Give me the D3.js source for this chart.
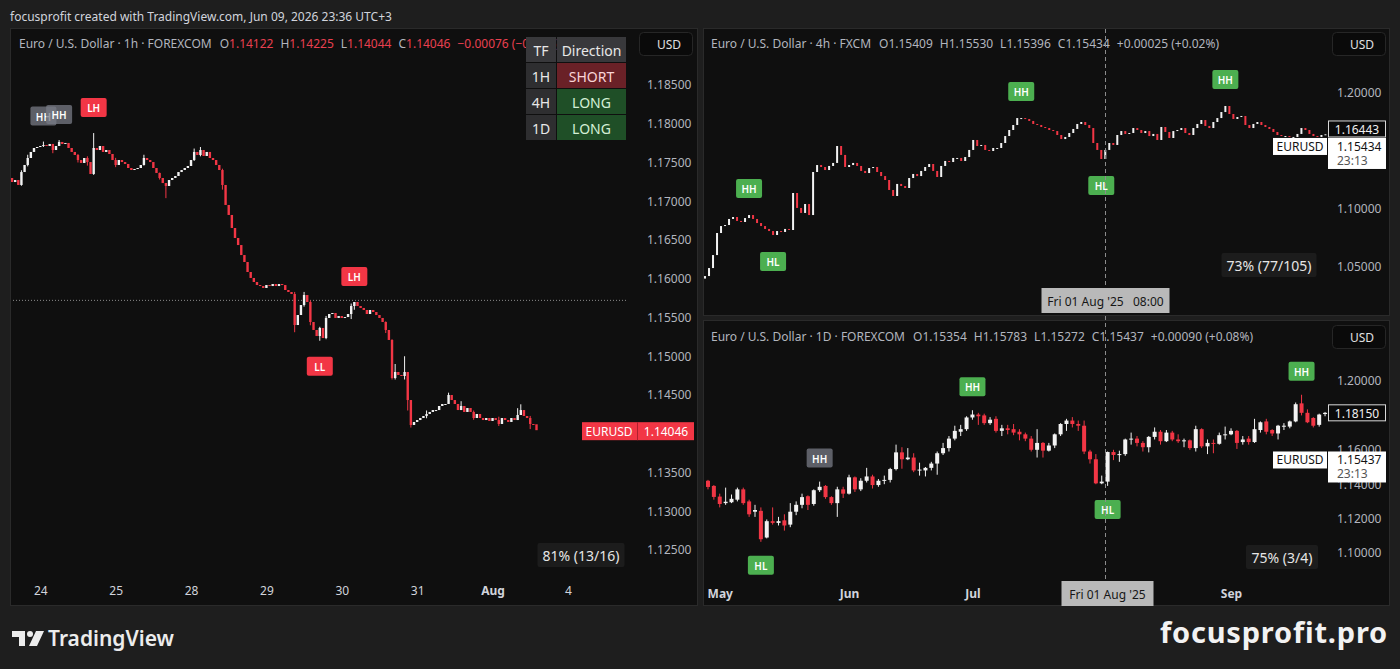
<!DOCTYPE html>
<html>
<head>
<meta charset="utf-8">
<script src="https://cdn.jsdelivr.net/npm/d3@7"></script>
<style>
  body { margin: 0; background: #1e1e1e; }
  svg { display: block; font-family: "Noto Sans", sans-serif; }
</style>
</head>
<body>
<div id="chart"></div>
<script>
// ---------- 1h panel data (Jul 23 15:00 -> Aug 1 14:00) ----------
var h1Start = Date.UTC(2025, 6, 23, 15);
var h1FirstOpen = 1.17300;
var h1Close = [
  1.17248, 1.17274, 1.17210, 1.17377, 1.17468, 1.17558, 1.17636, 1.17687, 1.17700, 1.17713,
  1.17726, 1.17713, 1.17739, 1.17661, 1.17713, 1.17765, 1.17739, 1.17752, 1.17687, 1.17636,
  1.17597, 1.17532, 1.17494, 1.17558, 1.17506, 1.17352, 1.17687, 1.17661, 1.17713, 1.17636,
  1.17661, 1.17610, 1.17532, 1.17468, 1.17532, 1.17506, 1.17481, 1.17429, 1.17403, 1.17416,
  1.17429, 1.17468, 1.17558, 1.17532, 1.17506, 1.17429, 1.17365, 1.17300, 1.17235, 1.17197,
  1.17274, 1.17300, 1.17326, 1.17377, 1.17403, 1.17429, 1.17455, 1.17532, 1.17636, 1.17597,
  1.17661, 1.17584, 1.17636, 1.17558, 1.17532, 1.17468, 1.17403, 1.17210, 1.16952, 1.16823,
  1.16655, 1.16526, 1.16435, 1.16306, 1.16216, 1.16087, 1.16010, 1.15958, 1.15919, 1.15906,
  1.15881, 1.15919, 1.15906, 1.15932, 1.15906, 1.15932, 1.15919, 1.15855, 1.15829, 1.15803,
  1.15403, 1.15532, 1.15661, 1.15790, 1.15700, 1.15442, 1.15339, 1.15261, 1.15365, 1.15235,
  1.15494, 1.15545, 1.15558, 1.15494, 1.15519, 1.15494, 1.15506, 1.15545, 1.15648, 1.15700,
  1.15648, 1.15623, 1.15597, 1.15545, 1.15597, 1.15571, 1.15532, 1.15494, 1.15442, 1.15339,
  1.15210, 1.14719, 1.14797, 1.14758, 1.14745, 1.14797, 1.14435, 1.14113, 1.14152, 1.14177,
  1.14203, 1.14229, 1.14255, 1.14281, 1.14306, 1.14306, 1.14358, 1.14384, 1.14384, 1.14500,
  1.14435, 1.14384, 1.14306, 1.14358, 1.14281, 1.14332, 1.14281, 1.14203, 1.14255, 1.14203,
  1.14177, 1.14203, 1.14165, 1.14203, 1.14177, 1.14126, 1.14203, 1.14177, 1.14152, 1.14203,
  1.14177, 1.14242, 1.14306, 1.14229, 1.14203, 1.14126, 1.14122, 1.14046
];
// [bar index, high, low] for bars with visible wicks
var h1Wicks = [
  [3, 1.17400, 1.17200], [5, 1.17600, 1.17450], [10, 1.17770, 1.17700], [13, 1.17740, 1.17620],
  [15, 1.17790, 1.17720], [21, 1.17610, 1.17500], [24, 1.17580, 1.17460], [26, 1.17880, 1.17340],
  [33, 1.17560, 1.17440], [42, 1.17600, 1.17460], [47, 1.17370, 1.17280], [49, 1.17230, 1.17040],
  [58, 1.17680, 1.17520], [60, 1.17700, 1.17580], [67, 1.17420, 1.17150], [90, 1.15830, 1.15310],
  [93, 1.15830, 1.15640], [95, 1.15720, 1.15400], [98, 1.15380, 1.15200], [100, 1.15520, 1.15220],
  [108, 1.15680, 1.15480], [109, 1.15700, 1.15600], [119, 1.15450, 1.15300], [121, 1.15220, 1.14700],
  [122, 1.14900, 1.14700], [125, 1.15000, 1.14700], [126, 1.14780, 1.14300], [127, 1.14430, 1.14080],
  [132, 1.14300, 1.14200], [139, 1.14530, 1.14460], [143, 1.14420, 1.14330], [147, 1.14300, 1.14180],
  [155, 1.14220, 1.14100], [161, 1.14330, 1.14220], [162, 1.14380, 1.14280], [165, 1.14230, 1.14060]
];
var h1RefLevel = 1.15721;
var h1Ticks = [1.125, 1.13, 1.135, 1.145, 1.15, 1.155, 1.16, 1.165, 1.17, 1.175, 1.18, 1.185];
var h1Markers = [[10, "HH", "gray"], [15, "HH", "gray"], [26, "LH", "red"], [98, "LL", "red"], [109, "LH", "red"]];

// ---------- 4h panel data (sampled closes, Mar -> Oct) ----------
var h4Start = Date.UTC(2025, 2, 1, 14);
var h4StepHours = 36.8;
var h4FirstOpen = 1.0400;
var h4Close = [
  1.0422, 1.0491, 1.0603, 1.0793, 1.0853, 1.0862, 1.0914, 1.0931, 1.0897, 1.0888,
  1.0922, 1.0948, 1.0914, 1.0879, 1.0853, 1.0828, 1.0810, 1.0776, 1.0810, 1.0802,
  1.0828, 1.0819, 1.1138, 1.1009, 1.0966, 1.1043, 1.0948, 1.1319, 1.1379, 1.1362,
  1.1336, 1.1371, 1.1397, 1.1543, 1.1466, 1.1362, 1.1379, 1.1397, 1.1371, 1.1328,
  1.1310, 1.1353, 1.1362, 1.1319, 1.1284, 1.1250, 1.1164, 1.1112, 1.1216, 1.1198,
  1.1181, 1.1267, 1.1302, 1.1284, 1.1328, 1.1362, 1.1388, 1.1328, 1.1276, 1.1371,
  1.1414, 1.1405, 1.1440, 1.1440, 1.1414, 1.1448, 1.1509, 1.1595, 1.1543, 1.1552,
  1.1509, 1.1500, 1.1526, 1.1526, 1.1569, 1.1629, 1.1681, 1.1724, 1.1784, 1.1784,
  1.1776, 1.1759, 1.1733, 1.1724, 1.1707, 1.1698, 1.1681, 1.1672, 1.1638, 1.1603,
  1.1621, 1.1655, 1.1690, 1.1733, 1.1750, 1.1724, 1.1698, 1.1569, 1.1509, 1.1431,
  1.1509, 1.1569, 1.1552, 1.1638, 1.1672, 1.1647, 1.1655, 1.1698, 1.1681, 1.1655,
  1.1672, 1.1629, 1.1647, 1.1595, 1.1707, 1.1664, 1.1612, 1.1672, 1.1681, 1.1698,
  1.1655, 1.1638, 1.1698, 1.1733, 1.1767, 1.1716, 1.1698, 1.1750, 1.1784, 1.1836,
  1.1888, 1.1819, 1.1776, 1.1793, 1.1802, 1.1724, 1.1698, 1.1733, 1.1750, 1.1724,
  1.1707, 1.1690, 1.1664, 1.1638, 1.1629, 1.1629, 1.1621, 1.1621, 1.1647, 1.1698,
  1.1681, 1.1647, 1.1629, 1.1621, 1.1638, 1.1644
];
var h4Ticks = [1.05, 1.10, 1.20];
var h4Markers = [[11, "HH", "green"], [17, "HL", "green"], [79, "HH", "green"], [99, "HL", "green"], [130, "HH", "green"]];
var h4LastPrice = 1.16443;

// ---------- 1D panel data (Apr 29 -> Sep 23), [open, high, low, close] ----------
var d1Start = Date.UTC(2025, 3, 29);
var d1Rows = [
  [1.1420, 1.1425, 1.1370, 1.1384], [1.1390, 1.1395, 1.1310, 1.1326],
  [1.1328, 1.1345, 1.1265, 1.1285], [1.1290, 1.1380, 1.1280, 1.1298], [1.1295, 1.1340, 1.1290, 1.1315],
  [1.1310, 1.1380, 1.1300, 1.1370], [1.1370, 1.1380, 1.1280, 1.1290], [1.1300, 1.1310, 1.1210, 1.1225],
  [1.1240, 1.1280, 1.1210, 1.1250], [1.1245, 1.1265, 1.1065, 1.1080], [1.1090, 1.1195, 1.1085, 1.1185],
  [1.1185, 1.1265, 1.1165, 1.1175], [1.1175, 1.1210, 1.1160, 1.1185], [1.1190, 1.1225, 1.1130, 1.1160],
  [1.1165, 1.1290, 1.1150, 1.1240], [1.1240, 1.1300, 1.1220, 1.1280], [1.1280, 1.1345, 1.1260, 1.1325],
  [1.1330, 1.1335, 1.1250, 1.1280], [1.1285, 1.1370, 1.1275, 1.1365], [1.1365, 1.1415, 1.1355, 1.1385],
  [1.1390, 1.1395, 1.1315, 1.1325], [1.1325, 1.1330, 1.1280, 1.1290], [1.1290, 1.1385, 1.1210, 1.1370],
  [1.1370, 1.1385, 1.1320, 1.1345],
  [1.1345, 1.1455, 1.1340, 1.1440], [1.1440, 1.1445, 1.1355, 1.1370], [1.1370, 1.1435, 1.1360, 1.1420],
  [1.1420, 1.1495, 1.1410, 1.1445], [1.1445, 1.1455, 1.1375, 1.1395], [1.1395, 1.1430, 1.1385, 1.1420],
  [1.1420, 1.1450, 1.1400, 1.1425], [1.1425, 1.1495, 1.1410, 1.1488], [1.1488, 1.1630, 1.1480, 1.1585],
  [1.1585, 1.1615, 1.1490, 1.1545], [1.1545, 1.1610, 1.1540, 1.1555], [1.1555, 1.1580, 1.1470, 1.1480],
  [1.1480, 1.1525, 1.1450, 1.1485], [1.1480, 1.1500, 1.1445, 1.1495], [1.1495, 1.1530, 1.1480, 1.1520],
  [1.1520, 1.1590, 1.1455, 1.1580], [1.1580, 1.1640, 1.1570, 1.1610], [1.1610, 1.1680, 1.1590, 1.1665],
  [1.1665, 1.1740, 1.1655, 1.1710], [1.1705, 1.1745, 1.1680, 1.1720], [1.1720, 1.1795, 1.1710, 1.1788],
  [1.1788, 1.1830, 1.1775, 1.1805], [1.1805, 1.1815, 1.1745, 1.1795], [1.1800, 1.1810, 1.1745, 1.1755],
  [1.1755, 1.1790, 1.1745, 1.1775], [1.1780, 1.1795, 1.1700, 1.1710], [1.1710, 1.1745, 1.1680, 1.1725],
  [1.1725, 1.1745, 1.1690, 1.1715], [1.1720, 1.1750, 1.1685, 1.1700], [1.1705, 1.1720, 1.1655, 1.1690],
  [1.1690, 1.1700, 1.1650, 1.1665], [1.1665, 1.1680, 1.1590, 1.1600], [1.1600, 1.1720, 1.1555, 1.1640],
  [1.1640, 1.1645, 1.1555, 1.1595], [1.1595, 1.1640, 1.1590, 1.1625], [1.1625, 1.1695, 1.1610, 1.1690],
  [1.1690, 1.1755, 1.1680, 1.1750], [1.1750, 1.1780, 1.1710, 1.1770], [1.1770, 1.1790, 1.1730, 1.1750],
  [1.1750, 1.1770, 1.1710, 1.1740], [1.1740, 1.1770, 1.1575, 1.1590], [1.1590, 1.1600, 1.1520, 1.1545],
  [1.1545, 1.1575, 1.1400, 1.1405], [1.1405, 1.1450, 1.1400, 1.1415],
  [1.1415, 1.1590, 1.1390, 1.1587], [1.1587, 1.1600, 1.1540, 1.1570], [1.1570, 1.1595, 1.1530, 1.1575],
  [1.1575, 1.1665, 1.1565, 1.1660], [1.1660, 1.1700, 1.1630, 1.1665], [1.1665, 1.1680, 1.1620, 1.1640],
  [1.1640, 1.1650, 1.1590, 1.1615], [1.1615, 1.1680, 1.1585, 1.1675], [1.1675, 1.1730, 1.1660, 1.1705],
  [1.1705, 1.1715, 1.1630, 1.1650], [1.1650, 1.1715, 1.1645, 1.1700], [1.1700, 1.1710, 1.1650, 1.1660],
  [1.1660, 1.1690, 1.1640, 1.1650], [1.1650, 1.1665, 1.1615, 1.1655], [1.1655, 1.1660, 1.1600, 1.1610],
  [1.1610, 1.1740, 1.1590, 1.1720], [1.1720, 1.1725, 1.1610, 1.1620], [1.1620, 1.1660, 1.1575, 1.1640],
  [1.1640, 1.1660, 1.1580, 1.1635], [1.1635, 1.1700, 1.1630, 1.1685], [1.1685, 1.1735, 1.1660, 1.1690],
  [1.1690, 1.1725, 1.1685, 1.1710], [1.1710, 1.1715, 1.1605, 1.1640], [1.1645, 1.1680, 1.1630, 1.1660],
  [1.1665, 1.1680, 1.1630, 1.1645], [1.1645, 1.1780, 1.1640, 1.1720], [1.1715, 1.1765, 1.1700, 1.1760],
  [1.1765, 1.1780, 1.1690, 1.1705], [1.1715, 1.1720, 1.1680, 1.1695], [1.1695, 1.1745, 1.1660, 1.1740],
  [1.1735, 1.1755, 1.1715, 1.1740], [1.1735, 1.1770, 1.1725, 1.1765], [1.1765, 1.1875, 1.1760, 1.1865],
  [1.1870, 1.1920, 1.1800, 1.1815], [1.1815, 1.1835, 1.1755, 1.1760], [1.1785, 1.1790, 1.1730, 1.1740],
  [1.1745, 1.1810, 1.1735, 1.1805], [1.1808, 1.1820, 1.1795, 1.1815]
];
var d1Ticks = [1.10, 1.12, 1.14, 1.16, 1.20];
var d1Markers = [[9, "HL", "green"], [19, "HH", "gray"], [45, "HH", "green"], [68, "HL", "green"], [101, "HH", "green"]];

// ---------- table / stats ----------
var tfRows = [["TF", "Direction"], ["1H", "SHORT"], ["4H", "LONG"], ["1D", "LONG"]];
var statTexts = { h1: "81% (13/16)", h4: "73% (77/105)", d1: "75% (3/4)" };
var crossTime = Date.UTC(2025, 7, 1, 8);

// ---------- styling ----------
var svgWidth = 1400, svgHeight = 669;
var upColor = "#f2f2f2", downColor = "#f23645";
var axisGray = "#b2b5be", labelGray = "#b2b5be", headRed = "#e8404f";
var markerFill = { green: "#4caf50", red: "#f23645", gray: "rgba(120,123,134,0.75)" };

var svg = d3.select("#chart").append("svg")
  .attr("width", svgWidth)
  .attr("height", svgHeight);

svg.append("rect").attr("width", svgWidth).attr("height", svgHeight).attr("fill", "#1e1e1e");

var panels = {
  h1: { x: 10, y: 28, w: 688, h: 578, plotR: 638 },
  h4: { x: 703, y: 28, w: 687, h: 288, plotR: 1330 },
  d1: { x: 703, y: 320, w: 687, h: 286, plotR: 1330 }
};

var defs = svg.append("defs");
Object.keys(panels).forEach(function(k) {
  var p = panels[k];
  svg.append("rect")
    .attr("x", p.x + 0.5).attr("y", p.y + 0.5)
    .attr("width", p.w - 1).attr("height", p.h - 1)
    .attr("fill", "#0f0f0f").attr("stroke", "#2a2a2a");
  defs.append("clipPath").attr("id", "clip-" + k)
    .append("rect").attr("x", p.x + 1).attr("y", p.y + 1)
    .attr("width", p.plotR - p.x - 1).attr("height", p.h - 2);
  defs.append("clipPath").attr("id", "clipall-" + k)
    .append("rect").attr("x", p.x + 1).attr("y", p.y + 1)
    .attr("width", p.w - 2).attr("height", p.h - 2);
});

// top caption
svg.append("text").attr("x", 10).attr("y", 16).attr("dominant-baseline", "central")
  .attr("font-size", 12).attr("fill", "#d1d4dc")
  .text("focusprofit created with TradingView.com, Jun 09, 2026 23:36 UTC+3");

// ---------- helpers ----------
function layoutPieces(g, x, y, pieces) {
  var cx = x;
  pieces.forEach(function(p) {
    if (typeof p === "number") { cx += p; return; }
    var t = g.append("text").attr("x", cx).attr("y", y)
      .attr("dominant-baseline", "central").attr("font-size", 12)
      .attr("fill", p[1]).text(p[0]);
    cx += t.node().getComputedTextLength();
  });
}

function drawCandles(g, rows, bw) {
  var c = g.selectAll("g.candle").data(rows).enter().append("g").attr("class", "candle");
  c.filter(function(d) { return d.wick; }).append("line")
    .attr("x1", function(d) { return d.x; }).attr("x2", function(d) { return d.x; })
    .attr("y1", function(d) { return d.yh; }).attr("y2", function(d) { return d.yl; })
    .attr("stroke", function(d) { return d.c >= d.o ? upColor : downColor; })
    .attr("stroke-width", 1);
  c.append("rect")
    .attr("x", function(d) { return d.x - bw / 2; })
    .attr("y", function(d) { return Math.min(d.yo, d.yc); })
    .attr("width", bw)
    .attr("height", function(d) { return Math.max(1, Math.abs(d.yo - d.yc)); })
    .attr("fill", function(d) { return d.c >= d.o ? upColor : downColor; });
}

function drawMarker(g, cx, edgeY, label, kind, gap) {
  var w = 26, h = 19;
  var above = label === "HH" || label === "LH";
  var top = above ? edgeY - gap - h : edgeY + gap;
  g.append("rect").attr("x", cx - w / 2).attr("y", top).attr("width", w).attr("height", h)
    .attr("rx", 2).attr("fill", markerFill[kind]);
  g.append("text").attr("x", cx).attr("y", top + h / 2 + 0.5)
    .attr("text-anchor", "middle").attr("dominant-baseline", "central")
    .attr("font-size", 10).attr("font-weight", 600).attr("fill", "#ffffff").text(label);
}

function statBox(cx, cy, w, text) {
  svg.append("rect").attr("x", cx - w / 2).attr("y", cy - 12).attr("width", w).attr("height", 24)
    .attr("rx", 2).attr("fill", "#1c1c1c");
  svg.append("text").attr("x", cx).attr("y", cy).attr("text-anchor", "middle")
    .attr("dominant-baseline", "central").attr("font-size", 14).attr("fill", "#e6e6e6").text(text);
}

function usdButton(x, y) {
  svg.append("rect").attr("x", x + 0.5).attr("y", y + 0.5).attr("width", 53).attr("height", 23)
    .attr("rx", 4).attr("fill", "#0a0a0a").attr("stroke", "#262626");
  svg.append("text").attr("x", x + 18).attr("y", y + 12).attr("dominant-baseline", "central")
    .attr("font-size", 12).attr("fill", "#e0e0e0").text("USD");
}

function styleYAxis(g) {
  g.select(".domain").remove();
  g.selectAll("text").attr("fill", axisGray).attr("font-size", 12).attr("font-family", "Noto Sans, sans-serif");
}

function styleXAxis(g, boldFn) {
  g.select(".domain").remove();
  g.selectAll("text").attr("fill", "#d1d4dc").attr("font-size", 12)
    .attr("font-family", "Noto Sans, sans-serif")
    .attr("font-weight", function(d, i) { return boldFn(d, i) ? 700 : 400; });
}

// ================= 1h panel =================
var h1Slots = [];
for (var t = h1Start; h1Slots.length < 200; t += 3600e3) {
  var wd = new Date(t).getUTCDay();
  if (wd !== 0 && wd !== 6) h1Slots.push(new Date(t));
}
var h1X = d3.scaleLinear().domain([-0.64, 199]).range([10, 637]);
var h1Y = d3.scaleLinear().domain([1.125, 1.185]).range([550, 85]);

var h1Rows = h1Close.map(function(c, i) {
  var o = i === 0 ? h1FirstOpen : h1Close[i - 1];
  var w = h1Wicks.find(function(k) { return k[0] === i; });
  var hi = w ? Math.max(w[1], o, c) : Math.max(o, c);
  var lo = w ? Math.min(w[2], o, c) : Math.min(o, c);
  return { x: h1X(i), o: o, c: c, h: hi, l: lo, yo: h1Y(o), yc: h1Y(c), yh: h1Y(hi), yl: h1Y(lo), wick: !!w };
});

var h1G = svg.append("g").attr("clip-path", "url(#clip-h1)");
h1G.append("line").attr("x1", 10).attr("x2", 628)
  .attr("y1", h1Y(h1RefLevel)).attr("y2", h1Y(h1RefLevel))
  .attr("stroke", "#8a8a8a").attr("stroke-width", 1).attr("stroke-dasharray", "1,2");
drawCandles(h1G, h1Rows, 2.4);
h1Markers.forEach(function(m) {
  var r = h1Rows[m[0]];
  var above = m[1] === "HH" || m[1] === "LH";
  drawMarker(h1G, r.x, above ? r.yh : r.yl, m[1], m[2], 16);
});

var h1Axis = svg.append("g").attr("transform", "translate(641,0)")
  .call(d3.axisRight(h1Y).tickValues(h1Ticks).tickFormat(d3.format(".5f")).tickSize(0).tickPadding(6));
styleYAxis(h1Axis);

var h1DayIdx = [];
h1Slots.forEach(function(d, i) { if (d.getUTCHours() === 0) h1DayIdx.push(i); });
var h1XAxis = svg.append("g").attr("transform", "translate(0,580)")
  .call(d3.axisBottom(h1X).tickValues(h1DayIdx).tickSize(0).tickPadding(6)
    .tickFormat(function(i) {
      var d = h1Slots[i];
      return d.getUTCDate() === 1 ? d3.utcFormat("%b")(d) : String(d.getUTCDate());
    }));
styleXAxis(h1XAxis, function(i) { return h1Slots[i].getUTCDate() === 1; });

// header
layoutPieces(svg.append("g"), 19, 43, [
  ["Euro / U.S. Dollar · 1h · FOREXCOM", labelGray], 8,
  ["O", labelGray], ["1.14122", headRed], 7,
  ["H", labelGray], ["1.14225", headRed], 7,
  ["L", labelGray], ["1.14044", headRed], 7,
  ["C", labelGray], ["1.14046", headRed], 7,
  ["\u22120.00076 (\u22120.07%)", headRed]
]);

// TF table
var tableG = svg.append("g");
var colX = [526, 557], colW = [30, 69], rowH = 26;
tfRows.forEach(function(row, r) {
  var y0 = 37 + r * rowH;
  row.forEach(function(cell, c) {
    var bg = "#2e2e30", fg = "#e8e8e8";
    if (c === 1 && r > 0) {
      bg = cell === "SHORT" ? "#6a2127" : "#1f4f27";
      fg = cell === "SHORT" ? "#f9d4d7" : "#d4efd6";
    }
    if (r === 0) bg = "#38383b";
    tableG.append("rect").attr("x", colX[c]).attr("y", y0).attr("width", colW[c]).attr("height", rowH - 1).attr("fill", bg);
    tableG.append("text").attr("x", colX[c] + colW[c] / 2).attr("y", y0 + rowH / 2)
      .attr("text-anchor", "middle").attr("dominant-baseline", "central")
      .attr("font-size", 14).attr("fill", fg).text(cell);
  });
});

usdButton(639, 32);
statBox(581, 555, 87, statTexts.h1);

// last price label
var h1Last = h1Close[h1Close.length - 1];
var h1LY = h1Y(h1Last);
svg.append("rect").attr("x", 582).attr("y", h1LY - 8).attr("width", 112).attr("height", 18).attr("fill", downColor);
svg.append("text").attr("x", 609).attr("y", h1LY + 1).attr("text-anchor", "middle").attr("dominant-baseline", "central")
  .attr("font-size", 12).attr("fill", "#ffffff").text("EURUSD");
svg.append("line").attr("x1", 637.5).attr("x2", 637.5).attr("y1", h1LY - 8).attr("y2", h1LY + 10).attr("stroke", "#b0202e");
svg.append("text").attr("x", 666).attr("y", h1LY + 1).attr("text-anchor", "middle").attr("dominant-baseline", "central")
  .attr("font-size", 12).attr("fill", "#ffffff").text(d3.format(".5f")(h1Last));

// ================= 4h panel =================
var h4X = d3.scaleUtc().domain([Date.UTC(2025, 2, 1), Date.UTC(2025, 9, 27)]).range([703.5, 1330]);
var h4Y = d3.scaleLinear().domain([1.10, 1.20]).range([209, 93]);

var h4Rows = h4Close.map(function(c, i) {
  var o = i === 0 ? h4FirstOpen : h4Close[i - 1];
  var dt = new Date(h4Start + i * h4StepHours * 3600e3);
  return { x: h4X(dt), o: o, c: c, yo: h4Y(o), yc: h4Y(c), wick: false };
});

var h4G = svg.append("g").attr("clip-path", "url(#clip-h4)");
drawCandles(h4G, h4Rows, 2);
h4Markers.forEach(function(m) {
  var r = h4Rows[m[0]];
  var above = m[1] === "HH" || m[1] === "LH";
  drawMarker(h4G, r.x, above ? Math.min(r.yo, r.yc) : Math.max(r.yo, r.yc), m[1], m[2], 17);
});

var h4Axis = svg.append("g").attr("transform", "translate(1331,0)")
  .call(d3.axisRight(h4Y).tickValues(h4Ticks).tickFormat(d3.format(".5f")).tickSize(0).tickPadding(6));
styleYAxis(h4Axis);

// month ticks; August sits under the crosshair label
var h4Months = d3.utcMonth.range(Date.UTC(2025, 2, 1), Date.UTC(2025, 9, 2))
  .filter(function(d) { return d.getUTCMonth() !== 7; });
var h4XAxis = svg.append("g").attr("transform", "translate(0,289)").attr("clip-path", "url(#clipall-h4)")
  .call(d3.axisBottom(h4X).tickValues(h4Months)
    .tickSize(0).tickPadding(6).tickFormat(d3.utcFormat("%b")));
styleXAxis(h4XAxis, function() { return true; });

layoutPieces(svg.append("g"), 711, 43, [
  ["Euro / U.S. Dollar · 4h · FXCM", labelGray], 8,
  ["O1.15409", labelGray], 7, ["H1.15530", labelGray], 7,
  ["L1.15396", labelGray], 7, ["C1.15434", labelGray], 7,
  ["+0.00025 (+0.02%)", labelGray]
]);
usdButton(1332, 32);
statBox(1269, 265, 95, statTexts.h4);

// ================= 1D panel =================
var d1Dates = [];
for (var td = d1Start; d1Dates.length < d1Rows.length; td += 86400e3) {
  var dw = new Date(td).getUTCDay();
  if (dw !== 0 && dw !== 6) d1Dates.push(new Date(td));
}
var d1X = d3.scaleLinear().domain([-0.85, 105.5]).range([703, 1328]);
var d1Y = d3.scaleLinear().domain([1.10, 1.20]).range([553, 381]);

var d1Data = d1Rows.map(function(r, i) {
  return { x: d1X(i), o: r[0], h: r[1], l: r[2], c: r[3],
    yo: d1Y(r[0]), yh: d1Y(r[1]), yl: d1Y(r[2]), yc: d1Y(r[3]), wick: true };
});

var d1G = svg.append("g").attr("clip-path", "url(#clip-d1)");
drawCandles(d1G, d1Data, 4);
d1Markers.forEach(function(m) {
  var r = d1Data[m[0]];
  var above = m[1] === "HH" || m[1] === "LH";
  drawMarker(d1G, r.x, above ? r.yh : r.yl, m[1], m[2], 14);
});

var d1Axis = svg.append("g").attr("transform", "translate(1331,0)")
  .call(d3.axisRight(d1Y).tickValues(d1Ticks).tickFormat(d3.format(".5f")).tickSize(0).tickPadding(6));
styleYAxis(d1Axis);

var d1MonthIdx = [];
d1Dates.forEach(function(d, i) {
  if (i > 0 && d.getUTCMonth() !== d1Dates[i - 1].getUTCMonth() && d.getUTCMonth() !== 7) d1MonthIdx.push(i);
});
var d1XAxis = svg.append("g").attr("transform", "translate(0,583)")
  .call(d3.axisBottom(d1X).tickValues(d1MonthIdx).tickSize(0).tickPadding(6)
    .tickFormat(function(i) { return d3.utcFormat("%b")(d1Dates[i]); }));
styleXAxis(d1XAxis, function() { return true; });

layoutPieces(svg.append("g"), 711, 336, [
  ["Euro / U.S. Dollar · 1D · FOREXCOM", labelGray], 8,
  ["O1.15354", labelGray], 7, ["H1.15783", labelGray], 7,
  ["L1.15272", labelGray], 7, ["C1.15437", labelGray], 7,
  ["+0.00090 (+0.08%)", labelGray]
]);
usdButton(1332, 325);
statBox(1282, 557, 72, statTexts.d1);

// ================= crosshair =================
var cx = Math.round(h4X(crossTime)) + 1.5;
svg.append("line").attr("x1", cx).attr("x2", cx).attr("y1", 29).attr("y2", 605)
  .attr("stroke", "#8c8c8c").attr("stroke-width", 1).attr("stroke-dasharray", "4,3");

function crossLabel(cxp, y0, w, text) {
  svg.append("rect").attr("x", cxp - w / 2).attr("y", y0).attr("width", w).attr("height", 25).attr("fill", "#b9b9b9");
  svg.append("text").attr("x", cxp).attr("y", y0 + 13).attr("text-anchor", "middle").attr("dominant-baseline", "central")
    .attr("font-size", 12).attr("fill", "#161616").attr("xml:space", "preserve").text(text);
}
crossLabel(cx, 288, 128, "Fri 01 Aug '25   08:00");
crossLabel(cx + 2, 581, 92, "Fri 01 Aug '25");

// ================= right price labels =================
function priceBoxes(yPrice, closeText, lastText, lastY) {
  // dark last-price box
  svg.append("rect").attr("x", 1328.5).attr("y", lastY - 8).attr("width", 57).attr("height", 16)
    .attr("fill", "#0a0a0a").attr("stroke", "#d8d8d8");
  svg.append("text").attr("x", 1357).attr("y", lastY + 0.5).attr("text-anchor", "middle").attr("dominant-baseline", "central")
    .attr("font-size", 12).attr("fill", "#f0f0f0").text(lastText);
  // symbol + close
  svg.append("rect").attr("x", 1273).attr("y", yPrice - 8).attr("width", 54).attr("height", 17).attr("fill", "#ffffff");
  svg.append("text").attr("x", 1300).attr("y", yPrice + 0.5).attr("text-anchor", "middle").attr("dominant-baseline", "central")
    .attr("font-size", 12).attr("fill", "#131313").text("EURUSD");
  svg.append("rect").attr("x", 1328).attr("y", yPrice - 8).attr("width", 58).attr("height", 31).attr("fill", "#ffffff");
  svg.append("text").attr("x", 1337).attr("y", yPrice + 0.5).attr("dominant-baseline", "central")
    .attr("font-size", 12).attr("fill", "#131313").text(closeText);
  svg.append("text").attr("x", 1337).attr("y", yPrice + 14.5).attr("dominant-baseline", "central")
    .attr("font-size", 12).attr("fill", "#555555").text("23:13");
}
var h4CloseY = h4Y(1.15434);
priceBoxes(h4CloseY, "1.15434", d3.format(".5f")(h4LastPrice), h4CloseY - 17);
var d1Last = d1Rows[d1Rows.length - 1][3];
priceBoxes(d1Y(1.15437), "1.15437", d3.format(".5f")(d1Last), d1Y(d1Last));

// ================= footer =================
var logo = svg.append("g").attr("fill", "#ececec");
logo.append("path").attr("d", "M12 631 h13 v15 h-6 v-9 h-7 z");
logo.append("circle").attr("cx", 30).attr("cy", 634).attr("r", 3);
logo.append("path").attr("d", "M36 631 h8 l-7 15 h-8 z");
svg.append("text").attr("x", 48).attr("y", 646).attr("font-size", 21).attr("font-weight", 600)
  .attr("fill", "#ececec").text("TradingView");
svg.append("text").attr("x", 1388).attr("y", 643).attr("text-anchor", "end").attr("font-size", 29)
  .attr("font-weight", 700).attr("letter-spacing", 0.8).attr("fill", "#f2f2f2").text("focusprofit.pro");
</script>
</body>
</html>
